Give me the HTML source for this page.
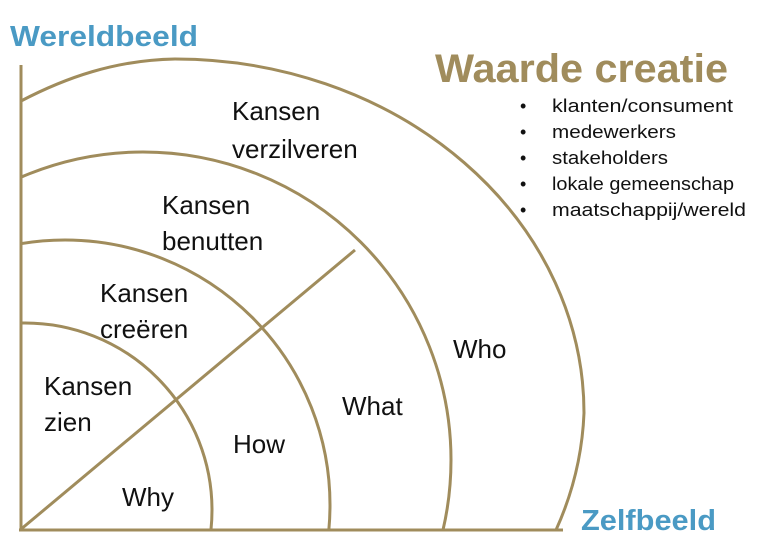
<!DOCTYPE html>
<html><head><meta charset="utf-8"><style>
html,body{margin:0;padding:0;background:#fff;overflow:hidden;width:768px;height:544px;}
svg{display:block;}
text{font-family:"Liberation Sans",sans-serif;}
</style></head><body>
<svg width="768" height="544" viewBox="0 0 768 544" xmlns="http://www.w3.org/2000/svg">
<defs><clipPath id="c"><rect x="21" y="0" width="600" height="530"/></clipPath></defs>
<g fill="none" stroke="#a08c5c" stroke-width="3">
<g clip-path="url(#c)">
<circle cx="25" cy="510" r="187"/>
<circle cx="65" cy="505" r="265"/>
<circle cx="143" cy="460" r="308"/>
</g>
<path d="M21,101 C65,78 115,60 175,59 A409 354 0 0 1 584 413 A409 354 0 0 1 556 530"/>
<line x1="21" y1="65" x2="21" y2="531"/>
<line x1="19" y1="530" x2="563" y2="530"/>
<line x1="20" y1="530" x2="355" y2="250"/>
</g>
<text x="10" y="46" font-size="29" font-weight="bold" fill="#4a9ac4" textLength="188" lengthAdjust="spacingAndGlyphs">Wereldbeeld</text>
<text x="581" y="530" font-size="29" font-weight="bold" fill="#4a9ac4" textLength="135" lengthAdjust="spacingAndGlyphs">Zelfbeeld</text>
<text x="435" y="82" font-size="40" font-weight="bold" fill="#a08c5c" textLength="293" lengthAdjust="spacingAndGlyphs">Waarde creatie</text>
<g font-size="18" fill="#111">
<text x="520" y="112">•</text><text x="552" y="112" textLength="181" lengthAdjust="spacingAndGlyphs">klanten/consument</text>
<text x="520" y="138">•</text><text x="552" y="138" textLength="124" lengthAdjust="spacingAndGlyphs">medewerkers</text>
<text x="520" y="164">•</text><text x="552" y="164" textLength="116" lengthAdjust="spacingAndGlyphs">stakeholders</text>
<text x="520" y="190">•</text><text x="552" y="190" textLength="182" lengthAdjust="spacingAndGlyphs">lokale gemeenschap</text>
<text x="520" y="216">•</text><text x="552" y="216" textLength="194" lengthAdjust="spacingAndGlyphs">maatschappij/wereld</text>
</g>
<g font-size="26" fill="#111">
<text x="232" y="120">Kansen</text>
<text x="232" y="158">verzilveren</text>
<text x="162" y="214">Kansen</text>
<text x="162" y="250">benutten</text>
<text x="100" y="302">Kansen</text>
<text x="100" y="338">creëren</text>
<text x="44" y="395">Kansen</text>
<text x="44" y="431">zien</text>
<text x="122" y="506">Why</text>
<text x="233" y="453">How</text>
<text x="342" y="415">What</text>
<text x="453" y="358">Who</text>
</g>
</svg>
</body></html>
